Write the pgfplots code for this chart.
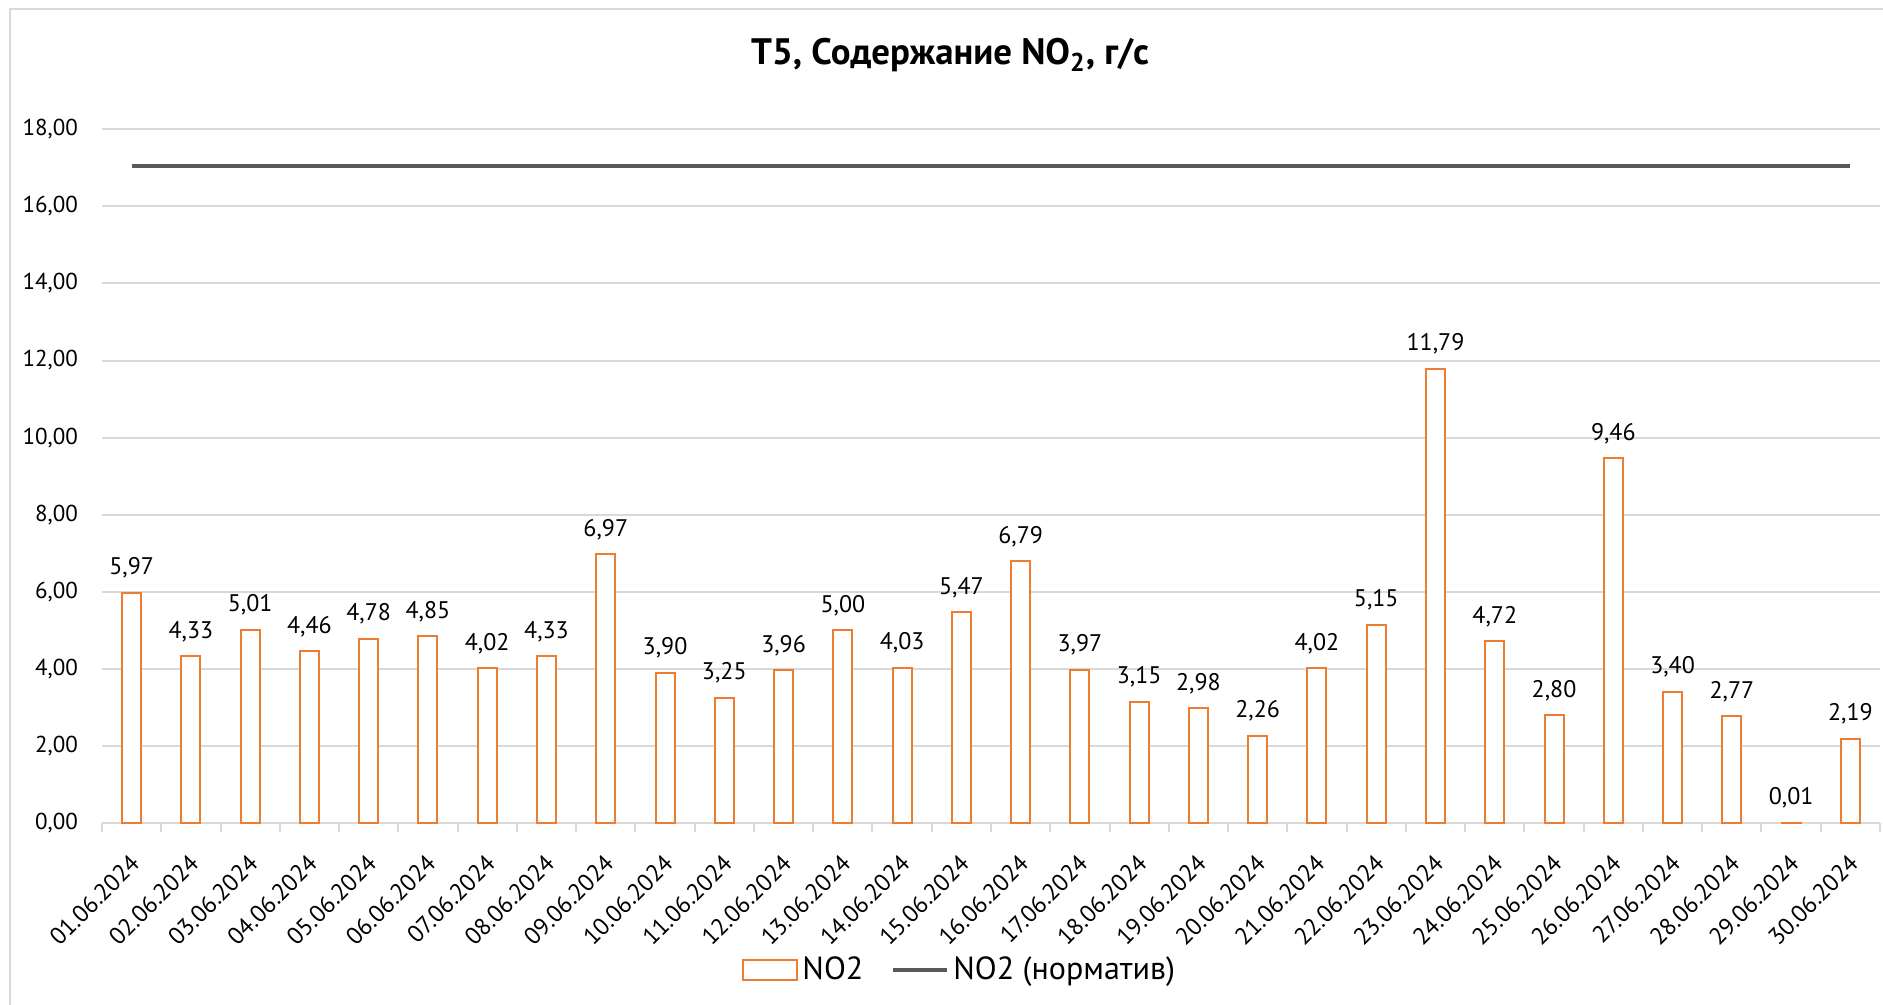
\documentclass[border=0pt]{standalone}
\usepackage{fontspec}
\setmainfont{PT Sans}
\usepackage{pgfplots}
\usepackage{pgfplotstable}
\pgfplotsset{compat=1.18}
\definecolor{barorange}{HTML}{ED7D31}
\definecolor{gridgray}{HTML}{D9D9D9}
\definecolor{normgray}{HTML}{595959}
\pgfplotstableread{
x y n
1 5.97 17.05
2 4.33 17.05
3 5.01 17.05
4 4.46 17.05
5 4.78 17.05
6 4.85 17.05
7 4.02 17.05
8 4.33 17.05
9 6.97 17.05
10 3.90 17.05
11 3.25 17.05
12 3.96 17.05
13 5.00 17.05
14 4.03 17.05
15 5.47 17.05
16 6.79 17.05
17 3.97 17.05
18 3.15 17.05
19 2.98 17.05
20 2.26 17.05
21 4.02 17.05
22 5.15 17.05
23 11.79 17.05
24 4.72 17.05
25 2.80 17.05
26 9.46 17.05
27 3.40 17.05
28 2.77 17.05
29 0.01 17.05
30 2.19 17.05
}\datatable
\begin{document}
\begin{tikzpicture}
\useasboundingbox (-51pt,-91pt) rectangle (890.5pt,411.5pt);
\draw[gridgray, line width=1pt] (-46pt,-91pt) -- (-46pt,407pt) -- (890.5pt,407pt);
\begin{axis}[
  scale only axis, width=889pt, height=346.85pt,
  xmin=0.5, xmax=30.5, ymin=0, ymax=18,
  ytick={0,2,...,18},
  scaled y ticks=false,
  ymajorgrids, grid style={gridgray, line width=1pt},
  axis line style={draw=none},
  xtick={1,...,30},
  xticklabels={01.06.2024,02.06.2024,03.06.2024,04.06.2024,05.06.2024,06.06.2024,07.06.2024,08.06.2024,09.06.2024,10.06.2024,11.06.2024,12.06.2024,13.06.2024,14.06.2024,15.06.2024,16.06.2024,17.06.2024,18.06.2024,19.06.2024,20.06.2024,21.06.2024,22.06.2024,23.06.2024,24.06.2024,25.06.2024,26.06.2024,27.06.2024,28.06.2024,29.06.2024,30.06.2024},
  minor xtick={0.5,1.5,...,30.5},
  xtick pos=bottom, ytick pos=left,
  tick align=outside,
  major tick length=0pt, minor tick length=4.5pt,
  minor tick style={gridgray, line width=1pt},
  xticklabel style={rotate=45, anchor=north east, font=\fontsize{12}{14}\selectfont, inner sep=1pt, yshift=-8.5pt, xshift=-10.5pt},
  yticklabel style={font=\fontsize{11.5}{14}\selectfont, xshift=-8.5pt},
  /pgf/number format/.cd, fixed, fixed zerofill, precision=2, use comma, assume math mode=true,
  /pgfplots/.cd,
  legend style={draw=none, legend columns=2, at={(0.483,-0.212)}, anchor=center,
    font=\fontsize{16}{18}\selectfont,
    /tikz/every even column/.append style={column sep=12pt}},
  legend cell align=left,
  clip=false,
]
\addplot[ybar, bar width=9.5pt, draw=barorange, fill=white, line width=1pt,
  nodes near coords,
  every node near coord/.append style={font=\fontsize{12}{14}\selectfont, text=black, anchor=base, yshift=9pt},
  legend image code/.code={\draw[barorange, fill=white, line width=1pt] (0pt,-5pt) rectangle (27pt,5pt);}]
  table[x=x, y=y] {\datatable};
\addlegendentry{NO2}
\addplot[normgray, line width=2pt, mark=none,
  legend image code/.code={\draw[normgray, line width=2pt] (0pt,0pt) -- (27pt,0pt);}]
  table[x=x, y=n] {\datatable};
\addlegendentry{NO2 (норматив)}
\node[anchor=base, font=\bfseries\fontsize{18.4}{21}\selectfont] at (axis description cs:0.477,1.0927) {T5, Содержание NO\textsubscript{2}, г/с};
\end{axis}
\end{tikzpicture}
\end{document}
